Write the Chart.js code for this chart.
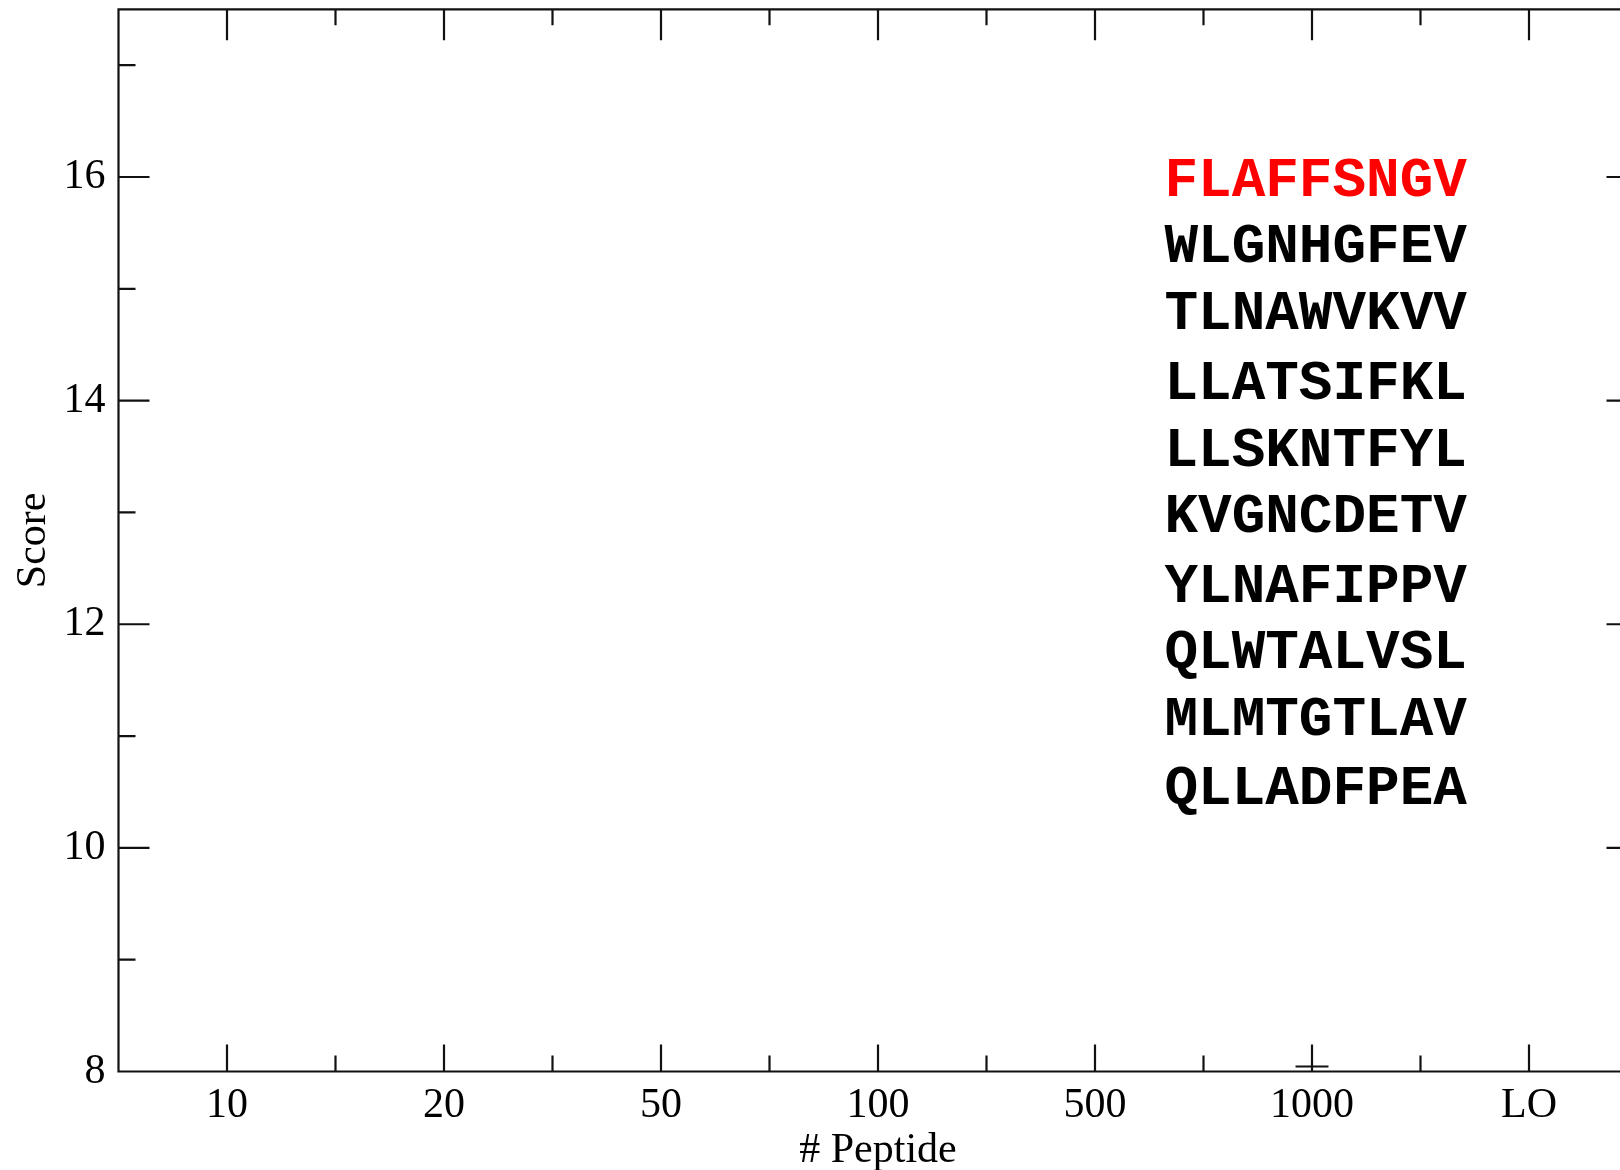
<!DOCTYPE html>
<html>
<head>
<meta charset="utf-8">
<title>Score vs # Peptide</title>
<script src="https://cdn.jsdelivr.net/npm/chart.js@4.4.0/dist/chart.umd.min.js"></script>
<style>
  html, body { margin: 0; padding: 0; background: #fff; overflow: hidden; }
  #wrap { position: relative; width: 1660px; height: 1170px; }
</style>
</head>
<body>
<div id="wrap"><canvas id="scoreChart" width="1660" height="1170"></canvas></div>
<script>
// x axis categories (number of peptides)
const peptideCounts = ["10", "20", "50", "100", "500", "1000", "LO"];

// y axis range and labelled ticks
const scoreMin = 8;
const scoreMax = 17.5;
const scoreTicks = [8, 10, 12, 14, 16];

// ranked peptides listed inside the plot
const peptides = ["FLAFFSNGV", "WLGNHGFEV", "TLNAWVKVV", "LLATSIFKL", "LLSKNTFYL",
                  "KVGNCDETV", "YLNAFIPPV", "QLWTALVSL", "MLMTGTLAV", "QLLADFPEA"];
const peptideColors = ["#ff0000", "#000000", "#000000", "#000000", "#000000",
                       "#000000", "#000000", "#000000", "#000000", "#000000"];
const peptideScores = [15.97, 15.38, 14.78, 14.16, 13.56, 12.97, 12.34, 11.75, 11.15, 10.54];
const peptideLabelX = 4.32;

// the one marker sitting on the axis at 1000
const markerCategory = ["1000"];
const markerScore = [8.045];

const FONT = "'Liberation Serif', 'Times New Roman', serif";

// frame plus inward tick marks on all four sides
const frameTicks = {
    id: 'frameTicks',
    afterDraw(chart) {
        const { ctx, chartArea: a, scales: { x, y } } = chart;
        const xs = x.ticks.map(t => t.value);
        const ys = y.ticks.map(t => t.value);
        const xMinor = xs.slice(1).map((v, i) => (v + xs[i]) / 2);
        const yMinor = ys.map(v => v + 1).filter(v => v < scoreMax);

        ctx.save();
        ctx.strokeStyle = '#111';
        ctx.lineWidth = 2.2;
        ctx.beginPath();
        ctx.rect(a.left, a.top, a.right - a.left, a.bottom - a.top);

        const vTick = (v, len, lenTop) => {
            const px = x.getPixelForValue(v);
            ctx.moveTo(px, a.bottom);
            ctx.lineTo(px, a.bottom - len);
            ctx.moveTo(px, a.top);
            ctx.lineTo(px, a.top + lenTop);
        };
        const hTick = (v, len) => {
            const py = y.getPixelForValue(v);
            ctx.moveTo(a.left, py);
            ctx.lineTo(a.left + len, py);
            ctx.moveTo(a.right, py);
            ctx.lineTo(a.right - len, py);
        };
        xs.forEach(v => vTick(v, 27, 31));
        xMinor.forEach(v => vTick(v, 16, 16));
        ys.forEach(v => hTick(v, 31));
        yMinor.forEach(v => hTick(v, 17));
        ctx.stroke();
        ctx.restore();
    },
    afterDatasetsDraw(chart) {
        const { ctx, scales: { x, y } } = chart;
        ctx.save();
        ctx.font = "bold 56px 'Liberation Mono', 'Courier New', monospace";
        ctx.textAlign = 'left';
        ctx.textBaseline = 'alphabetic';
        const px = x.getPixelForValue(peptideLabelX);
        peptides.forEach((p, i) => {
            ctx.fillStyle = peptideColors[i];
            ctx.fillText(p, px, y.getPixelForValue(peptideScores[i]) + 16);
        });
        ctx.restore();
    }
};

new Chart(document.getElementById('scoreChart').getContext('2d'), {
    type: 'scatter',
    data: {
        datasets: [{
            data: markerCategory.map((c, i) => ({ x: peptideCounts.indexOf(c), y: markerScore[i] })),
            pointStyle: 'cross',
            pointRadius: 16.5,
            pointBorderWidth: 2,
            borderColor: '#111',
            clip: 0
        }]
    },
    options: {
        responsive: false,
        animation: false,
        devicePixelRatio: 1,
        layout: { autoPadding: false, padding: { top: 9.3, right: 22.5, left: 0, bottom: 0 } },
        plugins: { legend: { display: false }, tooltip: { enabled: false } },
        scales: {
            x: {
                type: 'linear',
                min: -0.5,
                max: peptideCounts.length - 0.5,
                afterBuildTicks: s => { s.ticks = peptideCounts.map((_, i) => ({ value: i })); },
                afterFit: s => {
                    s.height = 98.5;
                    s.paddingLeft = 0;
                    s.paddingRight = 0;
                },
                grid: { display: false, drawTicks: false },
                border: { display: false },
                ticks: {
                    autoSkip: false,
                    maxRotation: 0,
                    padding: 9,
                    color: '#000',
                    font: { family: FONT, size: 42 },
                    callback: v => peptideCounts[v]
                },
                title: {
                    display: true,
                    text: '# Peptide',
                    color: '#000',
                    font: { family: FONT, size: 42, lineHeight: 1 },
                    padding: { top: 0, bottom: -2 }
                }
            },
            y: {
                min: scoreMin,
                max: scoreMax,
                afterBuildTicks: s => { s.ticks = scoreTicks.map(v => ({ value: v })); },
                afterFit: s => {
                    s.width = 118.5;
                    s.paddingTop = 0;
                    s.paddingBottom = 0;
                },
                grid: { display: false, drawTicks: false },
                border: { display: false },
                ticks: {
                    padding: 13,
                    color: '#000',
                    font: { family: FONT, size: 42 },
                    callback: v => String(v)
                },
                title: {
                    display: true,
                    text: 'Score',
                    color: '#000',
                    font: { family: FONT, size: 42 },
                    padding: { top: 9, bottom: 0 }
                }
            }
        }
    },
    plugins: [frameTicks]
});
</script>
</body>
</html>
